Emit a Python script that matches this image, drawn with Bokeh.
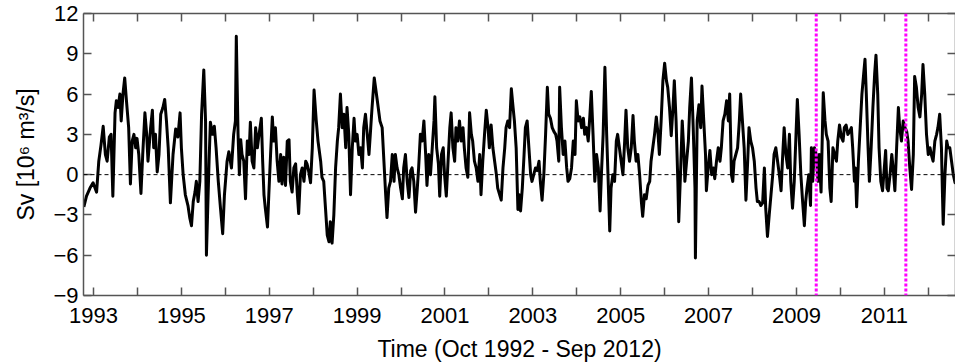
from bokeh.plotting import figure
from bokeh.models import Range1d, LinearAxis, FixedTicker, Span
from bokeh.embed import file_html
from bokeh.resources import INLINE

# ---- data (decimal year, Sv) ----
year = [
    1992.78, 1992.84, 1992.92, 1992.99, 1993.07, 1993.12, 1993.17, 1993.22, 1993.27, 1993.31,
    1993.36, 1993.40, 1993.44, 1993.49, 1993.52, 1993.56, 1993.60, 1993.63, 1993.67, 1993.71,
    1993.75, 1993.80, 1993.84, 1993.88, 1993.92, 1993.96, 1993.99, 1994.03, 1994.08, 1994.12,
    1994.17, 1994.21, 1994.24, 1994.30, 1994.34, 1994.37, 1994.41, 1994.45, 1994.49, 1994.53,
    1994.58, 1994.62, 1994.66, 1994.70, 1994.75, 1994.81, 1994.87, 1994.92, 1994.97, 1995.00,
    1995.04, 1995.09, 1995.15, 1995.19, 1995.23, 1995.27, 1995.31, 1995.34, 1995.38, 1995.42,
    1995.46, 1995.51, 1995.55, 1995.57, 1995.63, 1995.66, 1995.71, 1995.75, 1995.79, 1995.84,
    1995.89, 1995.94, 1995.98, 1996.04, 1996.08,
    1996.14, 1996.19, 1996.23, 1996.25, 1996.29, 1996.32, 1996.35, 1996.38, 1996.42, 1996.46,
    1996.50, 1996.54, 1996.57, 1996.61, 1996.65, 1996.69, 1996.73, 1996.76, 1996.82, 1996.85,
    1996.88, 1996.91, 1996.96, 1996.99, 1997.03, 1997.07, 1997.10, 1997.14, 1997.18, 1997.22,
    1997.26, 1997.29, 1997.33, 1997.37, 1997.41, 1997.45, 1997.48, 1997.52, 1997.56, 1997.60,
    1997.64, 1997.67, 1997.71, 1997.75, 1997.79, 1997.83, 1997.86, 1997.90, 1997.94, 1997.98,
    1998.02, 1998.07, 1998.11, 1998.17, 1998.20, 1998.24, 1998.28, 1998.32, 1998.36, 1998.39,
    1998.43, 1998.47, 1998.51, 1998.55, 1998.58, 1998.62, 1998.66, 1998.70, 1998.74, 1998.77,
    1998.81, 1998.85, 1998.89, 1998.93, 1998.96, 1999.00, 1999.04, 1999.08, 1999.12, 1999.15,
    1999.19, 1999.23, 1999.27, 1999.31, 1999.34, 1999.39,
    1999.46, 1999.52, 1999.57, 1999.61, 1999.65, 1999.68, 1999.72, 1999.76, 1999.80, 1999.84,
    1999.87, 1999.91, 1999.95, 1999.99, 2000.03, 2000.06, 2000.10, 2000.14, 2000.18, 2000.22,
    2000.25, 2000.29, 2000.33, 2000.37, 2000.40, 2000.44, 2000.48, 2000.52, 2000.56, 2000.59,
    2000.63, 2000.67, 2000.71, 2000.75, 2000.77, 2000.81, 2000.85, 2000.88, 2000.92, 2000.96,
    2000.99, 2001.03, 2001.07, 2001.11, 2001.14, 2001.18, 2001.22, 2001.25, 2001.29, 2001.33,
    2001.37, 2001.41, 2001.44, 2001.48, 2001.52, 2001.56, 2001.60, 2001.63, 2001.67, 2001.71,
    2001.75, 2001.79, 2001.82, 2001.86, 2001.90, 2001.94, 2001.98, 2002.01, 2002.05, 2002.09,
    2002.13, 2002.17, 2002.20, 2002.28, 2002.32, 2002.36, 2002.39, 2002.43, 2002.47, 2002.51,
    2002.55, 2002.58, 2002.62, 2002.66,
    2002.69, 2002.72, 2002.76, 2002.80, 2002.83, 2002.87, 2002.91, 2002.95, 2002.98, 2003.02,
    2003.06, 2003.10, 2003.14, 2003.17, 2003.21, 2003.25, 2003.29, 2003.33, 2003.36, 2003.40,
    2003.44, 2003.48, 2003.52, 2003.55, 2003.59, 2003.61, 2003.65, 2003.69, 2003.73, 2003.77,
    2003.80, 2003.84, 2003.88, 2003.92, 2003.96, 2003.99, 2004.03, 2004.07, 2004.11, 2004.15,
    2004.18, 2004.22, 2004.26, 2004.30, 2004.33, 2004.37, 2004.41, 2004.45, 2004.49, 2004.53,
    2004.56, 2004.60, 2004.64, 2004.68, 2004.71, 2004.75, 2004.78, 2004.82, 2004.86, 2004.90,
    2004.93, 2004.97, 2005.01, 2005.05, 2005.09, 2005.12, 2005.16, 2005.20, 2005.24, 2005.28,
    2005.31, 2005.35, 2005.39, 2005.43, 2005.47, 2005.50, 2005.54, 2005.58, 2005.62, 2005.66,
    2005.69, 2005.73, 2005.77, 2005.81, 2005.85, 2005.88, 2005.92, 2005.96, 2006.00,
    2006.04, 2006.07, 2006.11, 2006.15, 2006.19, 2006.22, 2006.26, 2006.30, 2006.32, 2006.36,
    2006.40, 2006.44, 2006.46, 2006.50, 2006.54, 2006.57, 2006.61, 2006.65, 2006.69, 2006.70,
    2006.74, 2006.78, 2006.82, 2006.85, 2006.89, 2006.93, 2006.95, 2006.99, 2007.03, 2007.07,
    2007.11, 2007.14, 2007.18, 2007.22, 2007.26, 2007.29, 2007.33, 2007.37, 2007.41, 2007.45,
    2007.48, 2007.52, 2007.55, 2007.58, 2007.62, 2007.66, 2007.70, 2007.73, 2007.77, 2007.81,
    2007.85, 2007.89, 2007.92, 2007.96, 2008.00, 2008.04, 2008.08, 2008.11, 2008.15, 2008.19,
    2008.23, 2008.27, 2008.30, 2008.34, 2008.38, 2008.42, 2008.46, 2008.49, 2008.53, 2008.57,
    2008.61, 2008.65, 2008.68, 2008.72, 2008.76, 2008.80, 2008.84, 2008.87, 2008.91, 2008.95,
    2008.99, 2009.02, 2009.06, 2009.10, 2009.14, 2009.18,
    2009.21, 2009.24, 2009.28, 2009.32, 2009.34, 2009.37, 2009.41, 2009.45, 2009.49, 2009.52,
    2009.56, 2009.61, 2009.65, 2009.68, 2009.72, 2009.76, 2009.79, 2009.83, 2009.87, 2009.91,
    2009.94, 2009.98, 2010.02, 2010.06, 2010.09, 2010.13, 2010.17, 2010.21, 2010.25, 2010.28,
    2010.32, 2010.34, 2010.37, 2010.41, 2010.45, 2010.49, 2010.53, 2010.56, 2010.59, 2010.63,
    2010.66, 2010.70, 2010.74, 2010.78, 2010.81, 2010.85, 2010.88, 2010.92, 2010.96, 2011.00,
    2011.03, 2011.06, 2011.09, 2011.13, 2011.17, 2011.20, 2011.24, 2011.28, 2011.32, 2011.35,
    2011.39, 2011.43, 2011.47, 2011.51, 2011.54, 2011.58, 2011.62, 2011.66, 2011.69, 2011.73,
    2011.77, 2011.81, 2011.85, 2011.88, 2011.92, 2011.96, 2012.00, 2012.04, 2012.07, 2012.11,
    2012.15, 2012.19, 2012.22, 2012.26, 2012.30, 2012.32, 2012.34, 2012.38, 2012.42, 2012.45,
    2012.49, 2012.53, 2012.57, 2012.61, 2012.66, 2012.72,
]
sv = [
    -2.4, -1.6, -1.0, -0.6, -1.3, 1.0, 2.2, 3.6, 1.5, 1.0,
    2.8, 3.0, -1.6, 4.6, 5.5, 5.0, 6.0, 4.0, 6.0, 7.2,
    5.5, 3.5, -0.7, 2.5, 3.0, 2.0, 2.7, 1.5, -1.4, 1.5,
    4.6, 3.0, 1.0, 3.5, 4.8, 2.0, 3.0, 0.2, 1.5, 4.5,
    5.0, 5.6, 4.0, 2.0, -2.1, 1.5, 3.4, 2.8, 4.6, 2.0,
    0.0, -1.5, -2.3, -3.2, -3.8, -2.0, -1.3, -0.5, -2.0, -0.5,
    4.5, 7.8, 4.0, -6.0, 1.0, 3.9, 3.0, 3.6, 2.0, -0.5,
    -2.5, -4.4, -1.5, 1.0, 1.7,
    0.5, 3.0, 4.0, 10.3, 3.0, 0.0, 2.6, 1.5, 1.0, -1.8,
    2.5, 1.5, 3.9, 1.0, 0.5, 3.5, 2.0, 2.8, 4.2, 1.0,
    -1.5, -2.5, -3.9, -1.5, 1.5, 4.3, 2.5, 3.5, 1.0, -0.5,
    1.5, -0.7, 1.3, -0.8, 2.5, 2.6, -0.5, -1.3, 0.5, 0.8,
    -1.5, -2.9, 0.0, 0.5, -0.5, 1.0, 0.8, 0.2, -0.6, 2.0,
    6.3, 4.0, 2.5, 1.0, -0.2, -0.5, -2.5, -4.5, -5.0, -3.5,
    -5.1, -3.0, 0.5, 2.5, 3.5, 6.0, 3.5, 4.5, 2.0, 5.0,
    3.0, -1.5, 2.0, 4.2, 2.5, 3.0, 1.5, 2.0, 0.5, 3.5,
    4.5, 3.0, 1.5, 3.5, 5.0, 7.2,
    5.5, 4.0, 3.5, 1.0, -1.5, -3.2, -1.0, -0.5, 1.5, -0.5,
    1.5, 0.5, 0.0, -1.0, -1.8, 0.5, 1.5, -0.5, -1.7, 0.3,
    0.5, -0.5, -2.8, -1.0, 0.5, 3.0, 2.5, 4.0, 1.5, -0.8,
    1.5, 0.0, 2.0, 4.0, 5.8, 2.0, 0.8, -1.6, 1.5, 2.0,
    0.0, -1.6, 1.0, 3.5, 4.6, 2.0, 1.0, 3.5, 2.5, 4.0,
    2.5, 3.5, 2.0, 0.5, -0.2, 4.6, 3.0, 2.5, 1.0, 0.5,
    -0.5, 1.5, -1.5, 1.0, 3.0, 4.8, 3.5, 2.0, 3.7, 2.0,
    1.0, 0.0, -1.0, -1.9, 0.5, 2.0, 3.5, 4.0, 3.5, 6.4,
    5.0, 4.0, 2.0, -2.6,
    -1.5, -2.7, -1.0, 1.5, 3.5, 4.0, 2.0, 0.0, -0.5, 0.0,
    0.5, 0.3, 1.0, -0.5, -1.9, 0.0, 3.0, 6.5, 4.5, 4.2,
    3.5, 3.2, 3.0, 2.5, 1.0, 6.5, 3.5, 1.5, 2.5, 0.5,
    -0.5, -0.3, 0.5, 2.5, 1.5, 5.5, 4.0, 4.3, 3.5, 4.2,
    3.0, 3.5, 2.5, 4.5, 6.2, 3.0, -0.5, 1.5, 0.5, -2.7,
    0.0, 3.0, 8.0, 3.0, 0.0, -4.2, -1.0, 0.0, -0.5, 2.5,
    3.0, 2.0, 1.0, 0.0, 2.5, 4.8, 2.0, 1.0, 2.0, 4.4,
    2.5, 1.0, 1.5, 0.0, -2.0, -3.1, -1.5, -1.8, -0.8, -0.5,
    1.0, 2.0, 3.0, 4.3, 3.0, 1.5, 4.0, 7.0, 8.3,
    7.0, 6.5, 5.0, 2.9, 5.0, 7.0, 4.0, -0.5, -3.5, 0.0,
    4.0, 1.5, -0.5, 1.0, 2.5, 5.0, 7.2, 3.5, -1.0, -6.2,
    4.0, 5.2, 3.5, 6.6, 4.0, 1.5, -1.2, 0.5, 1.8, 0.0,
    0.5, -0.3, 1.0, 2.0, 1.0, 2.0, 4.0, 4.5, 5.5, 4.0,
    6.0, 0.0, -0.5, 1.0, 1.5, 2.0, 4.0, 6.0, 4.0, 2.0,
    -1.9, 1.0, 3.5, 2.5, 2.0, 1.0, -1.0, -2.0, -2.0, -2.3,
    -2.1, 0.5, -2.5, -4.6, -3.0, -1.5, 0.0, 1.5, 2.0, 1.0,
    0.0, -1.2, 1.0, 3.5, 1.5, 0.5, 3.0, -0.5, -2.5, -0.5,
    3.0, 5.6, 3.0, 0.0, -2.0, -3.8,
    -2.0, -1.0, 0.0, -2.3, 2.0, -0.5, 2.0, 1.5, -0.5, 1.5,
    -1.3, 6.1, 4.0, 3.0, 2.5, -1.0, -2.0, 2.0, 1.5, 1.0,
    2.5, 3.7, 2.8, 2.5, 3.5, 3.7, 3.0, 3.2, 3.5, 2.0,
    -0.5, 0.5, -2.4, 1.0, 3.5, 6.0, 7.5, 8.6, 6.0, 2.0,
    -0.5, 2.0, 5.0, 7.5, 8.9, 6.0, 2.0, -0.5, -1.2, 0.5,
    1.8, -1.0, -1.2, 0.0, 1.5, 0.5, -1.2, 2.0, 5.0, 3.5,
    2.5, 4.0, 3.5, 3.2, 2.5, 0.5, -1.1, 1.5, 7.3, 6.5,
    5.0, 4.3, 6.0, 8.2, 6.0, 3.0, 1.5, 2.0, 1.5, 1.0,
    2.5, 3.0, 3.5, 4.5, 2.0, -1.0, -3.7, 0.0, 2.5, 2.0,
    2.0, 1.0, 0.0, -0.6, 0.3, 0.8,
]
event_years = [2009.45, 2011.49]
year_ticks = [1993, 1995, 1997, 1999, 2001, 2003, 2005, 2007, 2009, 2011]
year_minor = [1994, 1996, 1998, 2000, 2002, 2004, 2006, 2008, 2010, 2012]
sv_ticks = [-9, -6, -3, 0, 3, 6, 9, 12]

FONT = "Liberation Sans"
AXIS_COLOR = "#555555"

p = figure(frame_width=872, frame_height=282,
           x_range=Range1d(1992.772, 2012.62), y_range=Range1d(-9, 12),
           output_backend="svg", toolbar_location=None,
           min_border_left=83, min_border_right=0, min_border_top=13, min_border_bottom=68,
           x_axis_location=None, y_axis_location=None)
p.grid.visible = False
p.outline_line_color = None
p.background_fill_color = "white"
p.border_fill_color = "white"


def style_axis(ax, ticker, labels=True):
    ax.ticker = ticker
    ax.axis_line_color = AXIS_COLOR
    ax.axis_line_width = 1.5
    ax.major_tick_line_color = AXIS_COLOR
    ax.minor_tick_line_color = AXIS_COLOR
    ax.major_tick_line_width = 1.5
    ax.minor_tick_line_width = 1.5
    ax.major_tick_in = 8
    ax.major_tick_out = 0
    ax.minor_tick_in = 8
    ax.minor_tick_out = 0
    if labels:
        ax.major_label_text_font = FONT
        ax.major_label_text_font_size = "22px"
        ax.major_label_text_color = "black"
        ax.axis_label_text_font = FONT
        ax.axis_label_text_font_size = "23px"
        ax.axis_label_text_font_style = "normal"
        ax.axis_label_text_color = "black"
    else:
        ax.major_label_text_font_size = "1px"
        ax.major_label_text_color = None
        ax.major_label_standoff = 0


xt = FixedTicker(ticks=year_ticks, minor_ticks=year_minor)
yt = FixedTicker(ticks=sv_ticks, minor_ticks=[])

bottom = LinearAxis(axis_label="Time (Oct 1992 - Sep 2012)")
style_axis(bottom, xt)
bottom.major_label_standoff = 12
bottom.axis_label_standoff = 10
p.add_layout(bottom, "below")

top = LinearAxis()
style_axis(top, FixedTicker(ticks=year_ticks, minor_ticks=year_minor), labels=False)
p.add_layout(top, "above")

left = LinearAxis(axis_label="Sv [10\u2076 m\u00b3/s]")
style_axis(left, yt)
left.major_label_standoff = 5
left.axis_label_standoff = 11
p.add_layout(left, "left")

right = LinearAxis()
style_axis(right, FixedTicker(ticks=sv_ticks, minor_ticks=[]), labels=False)
p.add_layout(right, "right")

p.add_layout(Span(location=0, dimension="width", line_color="black",
                  line_width=1, line_dash="4 3"))

p.line(year, sv, line_color="black", line_width=3, line_join="round")

for ev in event_years:
    p.add_layout(Span(location=ev, dimension="height", line_color="#ff00ff",
                      line_width=3, line_dash="3 2"))

open("out.html", "w").write(file_html(p, INLINE))
